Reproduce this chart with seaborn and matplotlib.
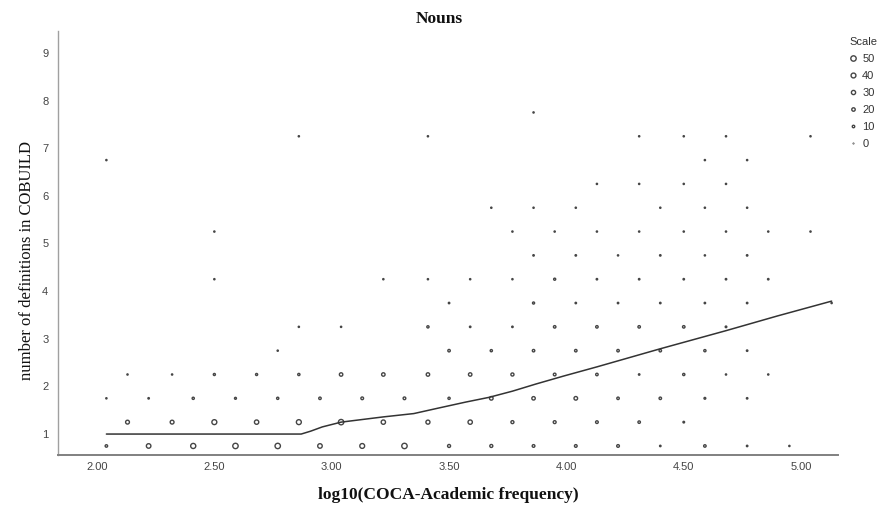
import numpy as np
import pandas as pd
import seaborn as sns
from matplotlib import pyplot as plt
from matplotlib.lines import Line2D

# binned scatter: one pair of lists per row of "number of definitions"
# freq_* = bin centres of log10(COCA-Academic frequency), count_* = words in the bin
freq_075 = [2.04, 2.22, 2.41, 2.59, 2.77, 2.95, 3.13, 3.31, 3.50, 3.68, 3.86, 4.04, 4.22, 4.40, 4.59, 4.77, 4.95]
count_075 = [10, 35, 45, 50, 62, 35, 40, 50, 15, 15, 12, 12, 12, 3, 10, 3, 2]

freq_125 = [2.13, 2.32, 2.50, 2.68, 2.86, 3.04, 3.22, 3.41, 3.59, 3.77, 3.95, 4.13, 4.31, 4.50]
count_125 = [25, 25, 42, 32, 42, 60, 32, 28, 32, 15, 14, 12, 10, 4]

freq_175 = [2.04, 2.22, 2.41, 2.59, 2.77, 2.95, 3.13, 3.31, 3.50, 3.68, 3.86, 4.04, 4.22, 4.40, 4.59, 4.77]
count_175 = [2, 3, 8, 6, 8, 10, 12, 12, 8, 22, 20, 22, 10, 10, 5, 3]

freq_225 = [2.13, 2.32, 2.50, 2.68, 2.86, 3.04, 3.22, 3.41, 3.59, 3.77, 3.95, 4.13, 4.31, 4.50, 4.68, 4.86]
count_225 = [2, 2, 7, 7, 8, 20, 20, 20, 20, 16, 12, 10, 3, 8, 2, 2]

freq_275 = [2.77, 3.50, 3.68, 3.86, 4.04, 4.22, 4.40, 4.59, 4.77]
count_275 = [2, 10, 8, 10, 10, 10, 10, 8, 3]

freq_325 = [2.86, 3.04, 3.41, 3.59, 3.77, 3.95, 4.13, 4.31, 4.50, 4.68]
count_325 = [2, 2, 8, 3, 3, 10, 10, 10, 10, 4]

freq_375 = [3.50, 3.86, 4.04, 4.22, 4.40, 4.59, 4.77, 5.13]
count_375 = [3, 7, 3, 3, 3, 3, 3, 2]

freq_425 = [2.50, 3.22, 3.41, 3.59, 3.77, 3.95, 4.13, 4.31, 4.50, 4.68, 4.86]
count_425 = [2, 2, 2, 2, 2, 7, 3, 3, 3, 3, 3]

freq_475 = [3.86, 4.04, 4.22, 4.40, 4.59, 4.77]
count_475 = [3, 3, 2, 3, 2, 3]

freq_525 = [2.50, 3.77, 3.95, 4.13, 4.31, 4.50, 4.68, 4.86, 5.04]
count_525 = [2, 2, 2, 2, 2, 2, 2, 2, 2]

freq_575 = [3.68, 3.86, 4.04, 4.40, 4.59, 4.77]
count_575 = [2, 2, 2, 2, 2, 2]

freq_625 = [4.13, 4.31, 4.50, 4.68]
count_625 = [2, 2, 2, 2]

freq_675 = [2.04, 4.59, 4.77]
count_675 = [2, 2, 2]

freq_725 = [2.86, 3.41, 4.31, 4.50, 4.68, 5.04]
count_725 = [2, 2, 2, 2, 2, 2]

freq_775 = [3.86]
count_775 = [2]

# loess fit line
fit_x = [2.04, 2.87, 2.91, 2.96, 3.04, 3.22, 3.35, 3.45, 3.57, 3.67, 3.77, 3.87,
         3.99, 4.13, 4.40, 4.68, 4.90, 5.13]
fit_y = [1.00, 1.00, 1.06, 1.15, 1.25, 1.36, 1.43, 1.54, 1.67, 1.77, 1.90, 2.05,
         2.22, 2.41, 2.79, 3.17, 3.48, 3.79]

legend_counts = [50, 40, 30, 20, 10, 0]
x_ticks = [2.0, 2.5, 3.0, 3.5, 4.0, 4.5, 5.0]
y_ticks = [1, 2, 3, 4, 5, 6, 7, 8, 9]

rows = [(0.75, freq_075, count_075), (1.25, freq_125, count_125),
        (1.75, freq_175, count_175), (2.25, freq_225, count_225),
        (2.75, freq_275, count_275), (3.25, freq_325, count_325),
        (3.75, freq_375, count_375), (4.25, freq_425, count_425),
        (4.75, freq_475, count_475), (5.25, freq_525, count_525),
        (5.75, freq_575, count_575), (6.25, freq_625, count_625),
        (6.75, freq_675, count_675), (7.25, freq_725, count_725),
        (7.75, freq_775, count_775)]

points = {"freq": [], "defs": [], "count": []}
for defs, freqs, counts in rows:
    for f, c in zip(freqs, counts):
        points["freq"].append(f)
        points["defs"].append(defs)
        points["count"].append(c)
points_df = pd.DataFrame(points)

SIZE_MIN, SIZE_MAX = 0.2, 15.0
EDGE = "#454545"
EDGE_W = 1.0

sns.set_style("white")
plt.rcParams["font.family"] = ["Liberation Sans", "DejaVu Sans"]

fig = plt.figure(figsize=(8.78, 5.12), dpi=100)
ax = fig.add_axes([0.0661, 0.1113, 0.8883, 0.8282])

sns.scatterplot(data=points_df, x="freq", y="defs", size="count",
                sizes=(SIZE_MIN, SIZE_MAX), size_norm=(0, 50),
                marker="o", facecolors="none", edgecolor=EDGE,
                linewidth=EDGE_W, legend=False, ax=ax)
ax.collections[0].set_facecolor("none")

sns.lineplot(x=fit_x, y=fit_y, estimator=None, sort=False,
             color="#333333", linewidth=1.1, ax=ax)

ax.set_xlim(1.834, 5.157)
ax.set_ylim(0.56, 9.46)
ax.set_xticks(x_ticks)
ax.set_xticklabels([f"{t:.2f}" for t in x_ticks])
ax.set_yticks(y_ticks)
ax.tick_params(length=0, labelsize=8, labelcolor="#444444")
ax.tick_params(axis="x", pad=5)
ax.tick_params(axis="y", pad=7)

sns.despine(ax=ax)
ax.spines["left"].set_color("#a0a0a0")
ax.spines["left"].set_linewidth(1.0)
ax.spines["bottom"].set_color("#808080")
ax.spines["bottom"].set_linewidth(1.4)

ax.set_xlabel("log10(COCA-Academic frequency)", family="Liberation Serif",
              fontweight="bold", fontsize=12.5, color="#111111")
ax.set_ylabel("number of definitions in COBUILD", family="Liberation Serif",
              fontsize=12, color="#111111")
ax.xaxis.set_label_coords(0.5, -0.075)
ax.yaxis.set_label_coords(-0.03, 0.458)

fig.suptitle("Nouns", x=0.5, y=0.978, family="Liberation Serif",
             fontweight="bold", fontsize=12.5, color="#111111")

handles = [Line2D([], [], marker="o", linestyle="", markerfacecolor="none",
                  markeredgecolor=EDGE, markeredgewidth=EDGE_W,
                  markersize=np.sqrt(SIZE_MIN + (SIZE_MAX - SIZE_MIN) * c / 50))
           for c in legend_counts]
leg = fig.legend(handles, [str(c) for c in legend_counts], title="Scale",
                 loc="upper left", bbox_to_anchor=(0.968, 0.927),
                 frameon=False, fontsize=8, title_fontsize=8,
                 handlelength=0.6, handletextpad=0.5, labelspacing=0.62,
                 borderaxespad=0, borderpad=0, alignment="left")
for t in leg.get_texts():
    t.set_color("#333333")
leg.get_title().set_color("#333333")

fig.savefig("out.png", dpi=100)
